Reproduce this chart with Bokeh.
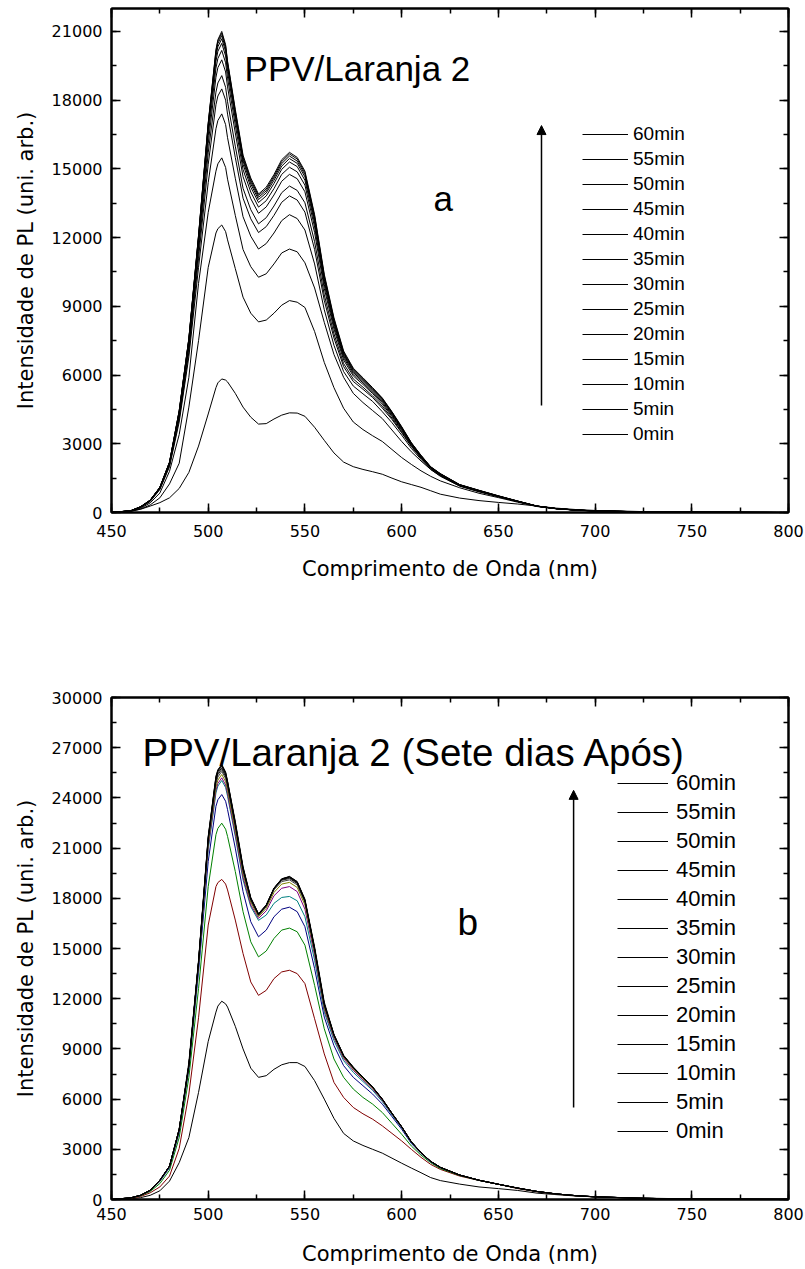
from bokeh.plotting import figure
from bokeh.models import (LinearAxis, SingleIntervalTicker, Range1d, Legend, LegendItem,
                          Arrow, NormalHead, Label, CustomJSTickFormatter)
from bokeh.layouts import column
from bokeh.embed import file_html
from bokeh.resources import INLINE

# ---------------- data ----------------
wavelength = [450, 460, 465, 470, 475, 480, 485, 490, 495, 500, 504, 505, 507, 509, 510, 514, 518, 522,
              526, 530, 534, 538, 542, 546, 550, 555, 560, 565, 570, 575, 580, 585, 590, 595,
              600, 605, 610, 615, 620, 630, 640, 650, 660, 670, 680, 690, 700, 725, 750, 800]

times = ["0min", "5min", "10min", "15min", "20min", "25min", "30min",
         "35min", "40min", "45min", "50min", "55min", "60min"]

# panel a : PPV/Laranja 2
a_0min = [10, 60, 140, 280, 430, 640, 1050, 1750, 2900, 4300, 5450, 5660, 5830, 5780, 5700, 5200, 4600, 4160,
          3860, 3880, 4080, 4250, 4350, 4340, 4200, 3720, 3150, 2600, 2200, 2000, 1880, 1780, 1670, 1500,
          1340, 1220, 1100, 950, 800, 630, 520, 440, 370, 280, 190, 130, 90, 40, 15, 0]
a_5min = [0, 50, 150, 330, 640, 1250, 2150, 4600, 7500, 10700, 12200, 12390, 12550, 12260, 11900, 10650, 9400, 8700,
          8320, 8400, 8700, 9050, 9250, 9180, 8950, 7900, 6550, 5450, 4550, 3950, 3620, 3350, 3100, 2750,
          2400, 2100, 1820, 1580, 1380, 1080, 840, 650, 450, 260, 160, 100, 60, 25, 10, 0]
a_10min = [0, 60, 180, 420, 850, 1800, 3400, 5900, 10000, 13100, 14900, 15220, 15480, 15060, 14550, 12970, 11480, 10730,
           10270, 10420, 10850, 11330, 11500, 11380, 10900, 9800, 8300, 6900, 5900, 5200, 4800, 4450, 4100, 3600,
           3100, 2650, 2250, 1880, 1580, 1150, 900, 690, 475, 270, 165, 105, 65, 28, 10, 0]
a_15min = [0, 70, 215, 480, 1000, 2000, 3950, 6800, 10700, 14400, 16750, 17110, 17400, 16930, 16360, 14590, 12910, 12060,
           11500, 11740, 12200, 12740, 13000, 12830, 12330, 10850, 8850, 7300, 6150, 5520, 5180, 4850, 4400, 3920,
           3380, 2800, 2320, 1880, 1600, 1160, 920, 690, 476, 272, 166, 106, 66, 28, 10, 0]
a_20min = [0, 72, 225, 500, 1030, 2060, 4080, 7000, 11100, 15200, 17800, 18180, 18490, 18000, 17390, 15500, 13720, 12820,
           12220, 12480, 12970, 13540, 13820, 13640, 13110, 11480, 9260, 7620, 6370, 5720, 5380, 5020, 4560, 4060,
           3480, 2880, 2370, 1920, 1630, 1175, 930, 698, 480, 274, 167, 107, 67, 29, 10, 0]
a_25min = [0, 74, 230, 510, 1050, 2100, 4180, 7200, 11400, 15700, 18350, 18750, 19070, 18560, 17930, 15990, 14150, 13220,
           12600, 12870, 13380, 13960, 14250, 14060, 13520, 11820, 9500, 7800, 6500, 5830, 5470, 5090, 4640, 4120,
           3520, 2910, 2390, 1930, 1640, 1180, 935, 700, 482, 275, 168, 108, 68, 29, 10, 0]
a_30min = [0, 76, 235, 520, 1065, 2130, 4260, 7330, 11650, 16100, 19000, 19420, 19760, 19230, 18580, 16570, 14660, 13700,
           13060, 13340, 13860, 14460, 14760, 14570, 14000, 12220, 9780, 8010, 6660, 5960, 5590, 5190, 4730, 4190,
           3580, 2950, 2420, 1950, 1650, 1185, 940, 705, 485, 276, 168, 108, 68, 29, 10, 0]
a_35min = [0, 77, 240, 528, 1078, 2155, 4320, 7420, 11800, 16450, 19400, 19820, 20170, 19630, 18960, 16910, 14970, 13990,
           13330, 13610, 14140, 14760, 15070, 14870, 14290, 12460, 9950, 8140, 6760, 6040, 5660, 5250, 4800, 4240,
           3620, 2980, 2440, 1960, 1660, 1190, 945, 708, 488, 277, 169, 109, 69, 30, 10, 0]
a_40min = [0, 78, 244, 533, 1087, 2170, 4370, 7500, 11920, 16700, 19700, 20130, 20480, 19930, 19250, 17170, 15200, 14200,
           13530, 13820, 14360, 14980, 15300, 15100, 14500, 12640, 10080, 8240, 6840, 6110, 5720, 5300, 4860, 4290,
           3660, 3000, 2455, 1970, 1670, 1200, 950, 712, 490, 278, 169, 109, 69, 30, 10, 0]
a_45min = [0, 79, 247, 536, 1093, 2185, 4400, 7550, 12000, 16850, 19900, 20330, 20680, 20120, 19430, 17330, 15350, 14340,
           13660, 13950, 14500, 15120, 15450, 15240, 14650, 12760, 10180, 8320, 6900, 6170, 5770, 5350, 4910, 4330,
           3690, 3020, 2470, 1980, 1680, 1205, 955, 715, 492, 279, 170, 110, 70, 30, 10, 0]
a_50min = [0, 80, 248, 538, 1097, 2192, 4420, 7570, 12040, 16930, 20050, 20470, 20820, 20250, 19560, 17440, 15440, 14440,
           13760, 14040, 14600, 15230, 15560, 15340, 14750, 12850, 10260, 8380, 6950, 6220, 5810, 5390, 4950, 4360,
           3710, 3030, 2480, 1985, 1685, 1210, 960, 720, 495, 279, 170, 110, 70, 30, 10, 0]
a_55min = [0, 80, 249, 539, 1099, 2196, 4440, 7590, 12080, 16970, 20150, 20570, 20920, 20350, 19650, 17520, 15520, 14520,
           13840, 14120, 14680, 15320, 15650, 15430, 14830, 12930, 10330, 8440, 7000, 6260, 5850, 5420, 4980, 4380,
           3730, 3040, 2490, 1990, 1690, 1215, 965, 725, 498, 280, 170, 110, 70, 30, 10, 0]
a_60min = [0, 80, 250, 540, 1100, 2200, 4450, 7600, 12100, 17000, 20200, 20640, 21000, 20420, 19700, 17600, 15600, 14600,
           13900, 14200, 14750, 15400, 15720, 15500, 14900, 13000, 10400, 8500, 7050, 6300, 5880, 5450, 5000, 4400,
           3750, 3050, 2500, 2000, 1700, 1220, 970, 730, 500, 280, 170, 110, 70, 30, 10, 0]

# panel b : PPV/Laranja 2 (Sete dias Após)
b_0min = [0, 40, 110, 250, 520, 1100, 2200, 3700, 6400, 9450, 11200, 11560, 11850, 11690, 11500, 10350, 9000, 7850,
          7300, 7400, 7780, 8050, 8180, 8180, 7950, 7100, 6000, 4850, 3950, 3500, 3230, 3000, 2770, 2470,
          2170, 1880, 1600, 1310, 1130, 920, 750, 650, 540, 380, 290, 210, 160, 80, 40, 10]
b_5min = [0, 70, 180, 400, 750, 1400, 3050, 6300, 10860, 16400, 18700, 18940, 19130, 18850, 18500, 16700, 14700, 13000,
          12200, 12500, 13200, 13600, 13700, 13500, 12900, 10800, 8700, 7000, 6100, 5500, 5120, 4800, 4400, 3950,
          3500, 3000, 2520, 2100, 1800, 1400, 1140, 910, 650, 460, 320, 220, 150, 70, 30, 10]
b_10min = [0, 85, 220, 480, 950, 1750, 3700, 7300, 12600, 18700, 21800, 22180, 22490, 22130, 21700, 19600, 17200, 15400,
           14500, 14850, 15600, 16100, 16220, 16000, 15200, 12800, 10200, 8400, 7300, 6600, 6100, 5700, 5200, 4550,
           3900, 3200, 2650, 2200, 1850, 1430, 1140, 910, 670, 470, 325, 225, 155, 70, 30, 10]
b_15min = [0, 95, 240, 520, 1080, 1900, 4000, 7800, 13600, 20200, 23500, 23890, 24200, 23800, 23300, 21000, 18400, 16600,
           15700, 16100, 16900, 17350, 17470, 17200, 16300, 13800, 10900, 9200, 8000, 7300, 6800, 6300, 5700, 4950,
           4200, 3350, 2750, 2250, 1900, 1450, 1150, 910, 680, 475, 330, 230, 160, 70, 30, 10]
b_20min = [0, 98, 245, 535, 1120, 1950, 4100, 7900, 13900, 20900, 24300, 24710, 25040, 24620, 24100, 21700, 19100, 17500,
           16680, 17000, 17700, 18050, 18110, 17850, 16900, 14300, 11200, 9500, 8300, 7600, 7050, 6520, 5850, 5050,
           4280, 3400, 2780, 2270, 1910, 1455, 1150, 910, 680, 478, 330, 230, 160, 70, 30, 10]
b_25min = [0, 99, 247, 540, 1130, 1970, 4130, 7950, 14000, 21100, 24450, 24860, 25200, 24770, 24250, 21850, 19250, 17600,
           16800, 17250, 18150, 18600, 18700, 18400, 17350, 14600, 11350, 9650, 8420, 7720, 7150, 6600, 5920, 5100,
           4310, 3420, 2790, 2275, 1915, 1458, 1150, 910, 680, 479, 330, 230, 160, 70, 30, 10]
b_30min = [0, 100, 248, 545, 1140, 1980, 4160, 7980, 14100, 21250, 24650, 25060, 25400, 24970, 24450, 22050, 19450, 17750,
           16900, 17400, 18350, 18850, 18950, 18650, 17600, 14750, 11450, 9730, 8500, 7800, 7220, 6660, 5960, 5120,
           4330, 3435, 2795, 2278, 1918, 1459, 1150, 910, 680, 479, 330, 230, 160, 70, 30, 10]
b_35min = [0, 100, 249, 547, 1145, 1990, 4180, 8000, 14150, 21400, 24850, 25250, 25580, 25160, 24650, 22250, 19600, 17850,
           16970, 17500, 18500, 19000, 19100, 18800, 17750, 14850, 11550, 9780, 8540, 7840, 7260, 6690, 5980, 5135,
           4340, 3440, 2798, 2279, 1919, 1459, 1150, 910, 680, 480, 330, 230, 160, 70, 30, 10]
b_40min = [0, 100, 250, 548, 1148, 1995, 4190, 8010, 14180, 21500, 25000, 25390, 25700, 25270, 24750, 22350, 19700, 17920,
           17000, 17540, 18550, 19080, 19180, 18880, 17820, 14920, 11620, 9810, 8560, 7860, 7280, 6700, 5990, 5140,
           4345, 3445, 2799, 2280, 1920, 1460, 1150, 910, 680, 480, 330, 230, 160, 70, 30, 10]
b_45min = [0, 100, 250, 549, 1149, 1998, 4195, 8020, 14190, 21550, 25100, 25490, 25800, 25370, 24850, 22420, 19760, 17960,
           17030, 17570, 18580, 19120, 19230, 18930, 17860, 14960, 11660, 9830, 8580, 7880, 7290, 6710, 5995, 5145,
           4348, 3448, 2800, 2280, 1920, 1460, 1150, 910, 680, 480, 330, 230, 160, 70, 30, 10]
b_50min = [0, 100, 250, 550, 1150, 2000, 4200, 8030, 14200, 21600, 25200, 25590, 25900, 25460, 24930, 22480, 19800, 17990,
           17050, 17590, 18600, 19150, 19270, 18970, 17880, 14980, 11680, 9840, 8590, 7890, 7295, 6715, 5998, 5148,
           4349, 3449, 2800, 2280, 1920, 1460, 1150, 910, 680, 480, 330, 230, 160, 70, 30, 10]
b_55min = [0, 100, 250, 550, 1150, 2000, 4200, 8040, 14200, 21650, 25250, 25640, 25950, 25510, 24970, 22500, 19820, 18020,
           17070, 17600, 18610, 19170, 19290, 18990, 17900, 15000, 11700, 9850, 8600, 7900, 7300, 6720, 6000, 5150,
           4350, 3450, 2800, 2280, 1920, 1460, 1150, 910, 680, 480, 330, 230, 160, 70, 30, 10]
b_60min = [0, 100, 250, 550, 1150, 2000, 4200, 8200, 14300, 21700, 25300, 25690, 26000, 25550, 25000, 22600, 19900, 18050,
           17080, 17600, 18600, 19150, 19310, 19000, 17950, 15100, 11800, 9870, 8620, 7920, 7310, 6730, 6010, 5160,
           4360, 3460, 2810, 2285, 1925, 1465, 1155, 915, 685, 480, 330, 230, 160, 70, 30, 10]

series_a = [a_0min, a_5min, a_10min, a_15min, a_20min, a_25min, a_30min,
            a_35min, a_40min, a_45min, a_50min, a_55min, a_60min]
series_b = [b_0min, b_5min, b_10min, b_15min, b_20min, b_25min, b_30min,
            b_35min, b_40min, b_45min, b_50min, b_55min, b_60min]
colors_b = ["#000000", "#800000", "#008000", "#000080", "#008080", "#800080", "#808000",
            "#404040", "#202020", "#000000", "#000000", "#000000", "#000000"]

TICK_FONT = "DejaVu Sans"
TEXT_FONT = "Liberation Sans"
NAN = float("nan")


def make_panel(height, b_top, b_bottom, b_left, frame_w, ymax,
               ylab_standoff, xtick_standoff, xlab_standoff):
    p = figure(width=805, height=height, x_range=Range1d(450, 800), y_range=Range1d(0, ymax),
               output_backend="svg", toolbar_location=None,
               min_border_left=b_left, min_border_right=805 - b_left - frame_w,
               min_border_top=b_top, min_border_bottom=b_bottom)
    p.grid.visible = False
    p.outline_line_color = "black"
    p.outline_line_width = 2
    p.background_fill_color = "white"
    p.border_fill_color = "white"

    xa = p.below[0]
    ya = p.left[0]
    xt = SingleIntervalTicker(interval=50, num_minor_ticks=2)
    yt = SingleIntervalTicker(interval=3000, num_minor_ticks=2)
    xa.ticker = xt
    ya.ticker = yt
    xa.axis_label = "Comprimento de Onda (nm)"
    ya.axis_label = "Intensidade de PL (uni. arb.)"

    extra_r = LinearAxis(ticker=yt, formatter=CustomJSTickFormatter(code="return ''"))
    extra_t = LinearAxis(ticker=xt, formatter=CustomJSTickFormatter(code="return ''"))
    p.add_layout(extra_r, "right")
    p.add_layout(extra_t, "above")

    for ax in [xa, ya, extra_r, extra_t]:
        ax.axis_line_width = 2
        ax.major_tick_in = 9
        ax.major_tick_out = 0
        ax.minor_tick_in = 5
        ax.minor_tick_out = 0
        ax.major_tick_line_width = 1.5
        ax.minor_tick_line_width = 1.5
        ax.major_label_text_font = TICK_FONT
        ax.major_label_text_font_size = "16px"
        ax.major_label_text_color = "black"
        ax.axis_label_text_font = TICK_FONT
        ax.axis_label_text_font_size = "21px"
        ax.axis_label_text_font_style = "normal"
        ax.axis_label_text_color = "black"
    for ax in [extra_r, extra_t]:
        ax.major_label_text_font_size = "0px"
        ax.major_label_standoff = 0
    ya.major_label_standoff = 9
    ya.axis_label_standoff = ylab_standoff
    xa.major_label_standoff = xtick_standoff
    xa.axis_label_standoff = xlab_standoff
    return p


def add_legend(p, x, y, glyph_w, standoff, font_size):
    dummy = p.line(x=[450], y=[NAN], line_color="black", line_width=1)
    leg = Legend(items=[LegendItem(label=t, renderers=[dummy]) for t in reversed(times)],
                 location=(x, y), glyph_width=glyph_w, glyph_height=20, label_height=20,
                 label_standoff=standoff, spacing=3, padding=0, margin=0,
                 border_line_alpha=0, background_fill_alpha=0,
                 label_text_font=TEXT_FONT, label_text_font_size=font_size,
                 label_text_color="black")
    p.add_layout(leg)


# ---------------- panel a ----------------
pa = make_panel(628, 8, 116, 110, 678, 22000, 11, 12, 17)
for t, ys in zip(times, series_a):
    pa.line(wavelength, ys, line_color="black", line_width=1)
add_legend(pa, 471, 67, 46, 5, "19px")

pa.add_layout(Arrow(x_start=672.3, y_start=4670, x_end=672.3, y_end=16890, line_width=1.5,
                    end=NormalHead(size=9, fill_color="black", line_color="black")))
pa.add_layout(Label(x=518.8, y=19370, text="PPV/Laranja 2", text_font=TEXT_FONT,
                    text_font_size="35px", text_baseline="alphabetic", text_color="black"))
pa.add_layout(Label(x=616.5, y=13700, text="a", text_font=TEXT_FONT,
                    text_font_size="35px", text_baseline="alphabetic", text_color="black"))

# ---------------- panel b ----------------
pb = make_panel(641, 69, 70, 111, 677, 30000, 11, 8, 19)
for t, ys, c in zip(times, series_b, colors_b):
    pb.line(wavelength, ys, line_color=c, line_width=1)
add_legend(pb, 506, 55, 51, 8, "22px")

pb.add_layout(Arrow(x_start=688.9, y_start=5500, x_end=688.9, y_end=24450, line_width=1.5,
                    end=NormalHead(size=9, fill_color="black", line_color="black")))
pb.add_layout(Label(x=466, y=26740, text="PPV/Laranja 2 (Sete dias Após)", text_font=TEXT_FONT,
                    text_font_size="38.5px", text_baseline="alphabetic", text_color="black"))
pb.add_layout(Label(x=628.9, y=16575, text="b", text_font=TEXT_FONT,
                    text_font_size="37px", text_baseline="alphabetic", text_color="black"))

layout = column(pa, pb, spacing=0)
open("out.html", "w").write(file_html(layout, INLINE))
